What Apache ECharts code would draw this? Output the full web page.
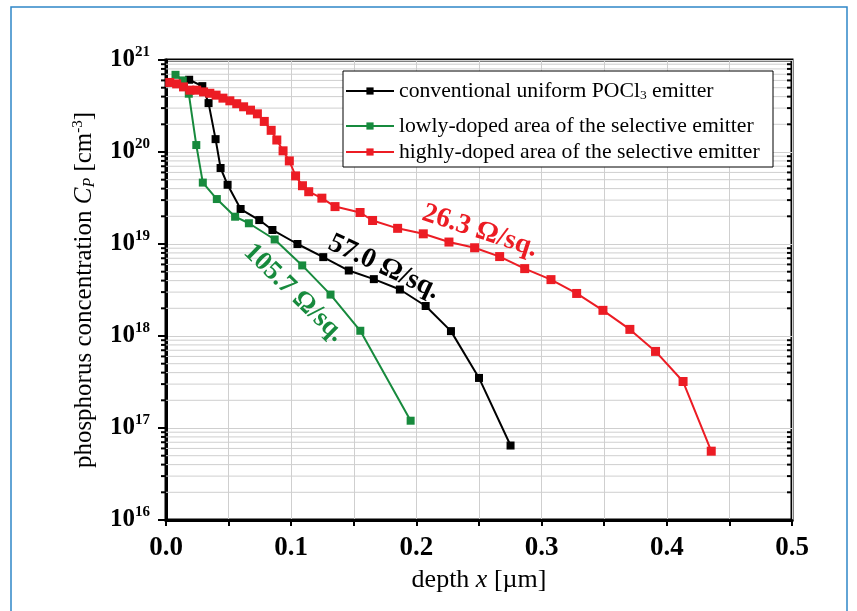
<!DOCTYPE html>
<html>
<head>
<meta charset="utf-8">
<script src="https://cdn.jsdelivr.net/npm/echarts@6/dist/echarts.min.js"></script>
<style>
html,body{margin:0;padding:0;background:#fff;}
#chart{width:857px;height:611px;}
</style>
</head>
<body>
<div id="chart"></div>
<script>
// ---- data (depth in µm, concentration in cm^-3) ----
var conventionalX = [0.0185, 0.029, 0.034, 0.0396, 0.0436, 0.0492, 0.0596, 0.0745, 0.085, 0.105, 0.1256, 0.146, 0.166, 0.1868, 0.2074, 0.2276, 0.25, 0.2752];
var conventionalY = [6.1e20, 5.2e20, 3.4e20, 1.38e20, 6.7e19, 4.4e19, 2.4e19, 1.82e19, 1.42e19, 1.0e19, 7.2e18, 5.15e18, 4.15e18, 3.2e18, 2.12e18, 1.13e18, 3.5e17, 6.45e16];

var lowlyX = [0.0076, 0.0134, 0.0182, 0.0242, 0.0294, 0.0406, 0.0552, 0.0662, 0.0868, 0.1088, 0.1314, 0.1552, 0.1954];
var lowlyY = [6.9e20, 6.0e20, 4.3e20, 1.19e20, 4.65e19, 3.08e19, 1.98e19, 1.68e19, 1.12e19, 5.85e18, 2.82e18, 1.14e18, 1.2e17];

var highlyX = [0.003, 0.0085, 0.014, 0.019, 0.0245, 0.030, 0.035, 0.040, 0.0455, 0.051, 0.0565, 0.062, 0.0675, 0.073, 0.0785, 0.084, 0.0885, 0.0935, 0.0985, 0.1035, 0.109, 0.114, 0.1245, 0.135, 0.155, 0.165, 0.185, 0.2055, 0.226, 0.2465, 0.2665, 0.2865, 0.3075, 0.328, 0.349, 0.3705, 0.391, 0.413, 0.4355];
var highlyY = [5.7e20, 5.5e20, 5.1e20, 4.7e20, 4.7e20, 4.5e20, 4.35e20, 4.15e20, 3.85e20, 3.6e20, 3.35e20, 3.1e20, 2.85e20, 2.6e20, 2.15e20, 1.72e20, 1.35e20, 1.03e20, 8.0e19, 5.5e19, 4.3e19, 3.7e19, 3.15e19, 2.55e19, 2.2e19, 1.8e19, 1.48e19, 1.29e19, 1.05e19, 9.1e18, 7.3e18, 5.4e18, 4.1e18, 2.9e18, 1.9e18, 1.18e18, 6.8e17, 3.2e17, 5.6e16];

var seriesNames = ['conventional uniform POCl3 emitter', 'lowly-doped area of the selective emitter', 'highly-doped area of the selective emitter'];
var annotationTexts = ['57.0 Ω/sq.', '105.7 Ω/sq.', '26.3 Ω/sq.'];
var xTickLabels = ['0.0', '0.1', '0.2', '0.3', '0.4', '0.5'];
var yExponents = [16, 17, 18, 19, 20, 21];

// minor log grid values (2..9 x 10^k)
var minorGrid = [];
for (var k = 16; k < 21; k++) {
  for (var m = 2; m <= 9; m++) minorGrid.push([0, m * Math.pow(10, k)]);
}

function pairs(xs, ys) { return xs.map(function (x, i) { return [x, ys[i]]; }); }

var BLACK = '#000000', GREEN = '#178a3d', RED = '#ec1c24';
var FONT = '"Liberation Serif", "Times New Roman", serif';

var chart = echarts.init(document.getElementById('chart'), null, {renderer: 'canvas'});

function legendCfg(name, top) {
  return {
    data: [name],
    left: 345, top: top, padding: 0,
    itemWidth: 48, itemHeight: 9,
    selectedMode: false,
    textStyle: {
      fontFamily: FONT, fontSize: 21.7, color: '#000',
      rich: {
        a: {fontFamily: FONT, fontSize: 21.7, color: '#000'},
        sub: {fontFamily: FONT, fontSize: 13.5, color: '#000', verticalAlign: 'bottom', padding: [8, 0, 0, 0]}
      }
    },
    formatter: function (n) {
      if (n.indexOf('POCl3') >= 0) return '{a|conventional uniform POCl}{sub|3}{a| emitter}';
      return '{a|' + n + '}';
    },
    z: 10
  };
}

var option = {
  backgroundColor: '#fff',
  animation: false,
  grid: {left: 166, right: 65, top: 60, bottom: 91, show: true, borderColor: '#000', borderWidth: 3, backgroundColor: 'transparent'},
  legend: [legendCfg(seriesNames[0], 80), legendCfg(seriesNames[1], 115), legendCfg(seriesNames[2], 141)],
  xAxis: {
    type: 'value', min: 0, max: 0.5, interval: 0.05,
    name: 'depth {i|x} [µm]', nameLocation: 'middle', nameGap: 47,
    nameTextStyle: {fontFamily: FONT, fontSize: 26, color: '#000',
      rich: {i: {fontFamily: FONT, fontSize: 26, fontStyle: 'italic', color: '#000'}}},
    axisLine: {show: true, onZero: false, lineStyle: {color: '#000', width: 3}},
    axisTick: {show: true, inside: false, length: 6, lineStyle: {color: '#000', width: 2}},
    axisLabel: {
      fontFamily: FONT, fontSize: 27, fontWeight: 'bold', color: '#000', margin: 15,
      formatter: function (v) {
        var t = Math.round(v * 100);
        if (t % 10 !== 0) return '';
        return xTickLabels[t / 10];
      }
    },
    splitLine: {show: true, lineStyle: {color: '#cfcfcf', width: 1}}
  },
  yAxis: {
    type: 'log', logBase: 10, min: 1e16, max: 1e21,
    name: 'phosphorus concentration {i|C}{sub|P} [cm{sup|-3}]',
    nameLocation: 'middle', nameGap: 68, nameRotate: 90,
    nameTextStyle: {fontFamily: FONT, fontSize: 25, color: '#000',
      rich: {
        i: {fontFamily: FONT, fontSize: 25, fontStyle: 'italic', color: '#000'},
        sub: {fontFamily: FONT, fontSize: 16, fontStyle: 'italic', color: '#000', verticalAlign: 'bottom', padding: [10, 0, 0, 0]},
        sup: {fontFamily: FONT, fontSize: 15, color: '#000', verticalAlign: 'top', padding: [0, 0, 12, 0]}
      }},
    axisLine: {show: true, lineStyle: {color: '#000', width: 3}},
    axisTick: {show: true, inside: false, length: 8, lineStyle: {color: '#000', width: 2}},
    axisLabel: {
      margin: 16, color: '#000',
      formatter: function (v) {
        var e = Math.round(Math.log10(v));
        return '{b|10}{s|' + e + '}';
      },
      rich: {
        b: {fontFamily: FONT, fontSize: 25, fontWeight: 'bold', color: '#000', lineHeight: 30},
        s: {fontFamily: FONT, fontSize: 15, fontWeight: 'bold', color: '#000', verticalAlign: 'top', lineHeight: 16}
      }
    },
    splitLine: {show: true, lineStyle: {color: '#cfcfcf', width: 1}}
  },
  series: [
    {
      type: 'custom', name: 'minorGrid', silent: true, clip: false, z: 1,
      data: minorGrid,
      encode: {x: 0, y: 1},
      renderItem: function (params, api) {
        var v = api.value(1);
        var p0 = api.coord([0, v]);
        var p1 = api.coord([0.5, v]);
        return {
          type: 'group',
          children: [
            {type: 'line', shape: {x1: p0[0], y1: p0[1], x2: p1[0], y2: p1[1]}, style: {stroke: '#cfcfcf', lineWidth: 1}},
            {type: 'line', shape: {x1: p0[0] - 5, y1: p0[1], x2: p0[0], y2: p0[1]}, style: {stroke: '#000', lineWidth: 2}},
            {type: 'line', shape: {x1: p1[0] - 5, y1: p1[1], x2: p1[0], y2: p1[1]}, style: {stroke: '#000', lineWidth: 2}}
          ]
        };
      }
    },
    {
      name: seriesNames[0], type: 'line', data: pairs(conventionalX, conventionalY),
      symbol: 'rect', symbolSize: 8, z: 3,
      lineStyle: {color: BLACK, width: 2}, itemStyle: {color: BLACK}
    },
    {
      name: seriesNames[1], type: 'line', data: pairs(lowlyX, lowlyY),
      symbol: 'rect', symbolSize: 8, z: 4,
      lineStyle: {color: GREEN, width: 2}, itemStyle: {color: GREEN}
    },
    {
      name: seriesNames[2], type: 'line', data: pairs(highlyX, highlyY),
      symbol: 'rect', symbolSize: 9, z: 5,
      lineStyle: {color: RED, width: 2}, itemStyle: {color: RED}
    }
  ],
  graphic: [
    {type: 'rect', shape: {x: 11, y: 7, width: 836, height: 640}, style: {fill: 'none', stroke: '#2f86c8', lineWidth: 1.5}, silent: true, z: 0},
    {type: 'rect', shape: {x: 343, y: 71, width: 430, height: 96}, style: {fill: '#fff', stroke: '#000', lineWidth: 1}, silent: true, z: 6},
    {type: 'text', x: 384, y: 267, rotation: -25 * Math.PI / 180, z: 7,
      style: {text: annotationTexts[0], fill: BLACK, font: 'bold 28px ' + FONT, textAlign: 'center', textVerticalAlign: 'middle'}},
    {type: 'text', x: 294, y: 293, rotation: -44 * Math.PI / 180, z: 7,
      style: {text: annotationTexts[1], fill: GREEN, font: 'bold 27px ' + FONT, textAlign: 'center', textVerticalAlign: 'middle'}},
    {type: 'text', x: 480, y: 231, rotation: -18 * Math.PI / 180, z: 7,
      style: {text: annotationTexts[2], fill: RED, font: 'bold 28px ' + FONT, textAlign: 'center', textVerticalAlign: 'middle'}}
  ]
};
chart.setOption(option);
</script>
</body>
</html>
